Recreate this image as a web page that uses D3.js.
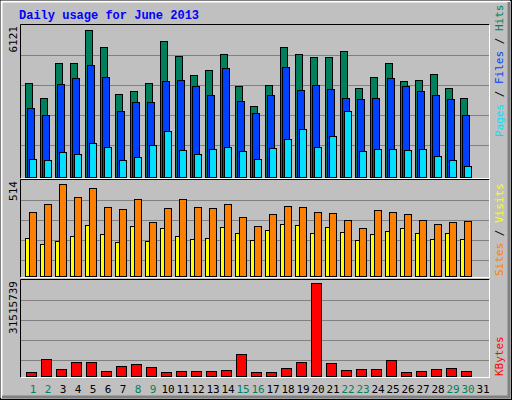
<!DOCTYPE html><html><head><meta charset="utf-8">
<script src="https://cdn.jsdelivr.net/npm/d3@7"></script>
<style>body{margin:0;background:#fff}svg{display:block}</style></head><body>
<script>
const days = d3.range(1,32);
const weekend = [1,2,8,9,15,16,22,23,29,30];
const hits  = [3830,3220,4630,4630,5960,5280,3380,3500,3830,5520,4910,4150,4350,4990,3690,2860,3740,5280,4990,4870,4870,5110,3620,4070,4630,3900,3950,4190,3620,3220,0];
const files = [2780,2500,3790,4000,4550,4070,2660,3060,3020,3900,3950,3700,3340,4430,3090,2580,3340,4470,3540,3740,3580,3220,3180,3220,4000,3670,3500,3340,3180,2500,0];
const pages = [720,680,1000,930,1370,1210,680,810,1290,1850,1090,930,1130,1210,1050,720,1170,1530,1930,1210,1650,2660,1050,1130,1130,1090,1130,850,680,440,0];
const sites = [205,173,189,216,276,227,184,270,189,259,216,200,205,265,232,194,249,281,276,232,265,238,194,227,243,259,232,200,232,200,0];
const visits= [346,389,497,427,476,373,362,416,292,368,416,373,368,389,319,270,335,378,373,346,341,303,259,357,346,335,303,281,292,297,0];
const kbytes= [1330000,5640000,2320000,4640000,4640000,1660000,3320000,3980000,2980000,1330000,1660000,1660000,1660000,1990000,7300000,1330000,1330000,2650000,4640000,30850000,4310000,1990000,2320000,2320000,5310000,1330000,1660000,2320000,2650000,1660000,0];
const maxTop = 6121, maxMid = 514, maxBot = 31515739;

const W=512,H=400;
const svg=d3.select("body").append("svg").attr("width",W).attr("height",H);
svg.append("rect").attr("width",W).attr("height",H).attr("fill","#c0c0c0");
// bevel
svg.append("rect").attr("x",0.5).attr("y",0.5).attr("width",W-1).attr("height",H-1).attr("fill","none").attr("stroke","#000");
svg.append("path").attr("d",`M1.5,${H-2}V1.5H${W-2}`).attr("fill","none").attr("stroke","#fff").attr("stroke-width",2);
svg.append("path").attr("d",`M${W-3},2V${H-3}H2`).attr("fill","none").attr("stroke","#808080").attr("stroke-width",3);

const x=d3.scaleBand().domain(days).range([22.5,487.5]).padding(0);
const mono="'DejaVu Sans Mono','Liberation Mono',monospace";

svg.append("text").attr("x",19).attr("y",19).attr("fill","#0000ff").attr("font-family","'Liberation Mono',monospace")
  .attr("font-weight","bold").attr("font-size","12px").text("Daily usage for June 2013");

function panel(y0,y1,max,label){
  svg.append("rect").attr("x",20.5).attr("y",y0+0.5).attr("width",469).attr("height",y1-y0).attr("fill","#c0c0c0");
  const y=d3.scaleLinear().domain([0,max]).range([y1,y0+1]);
  const grid=[1,2,3,4].map(i=>y1-1-i*20*(y1-y0)/96*0+0);
  return y;
}
const panels=[
 {y0:25,y1:177,max:maxTop,lab:"6121",grid:[55,85,115,145]},
 {y0:180,y1:276,max:maxMid,lab:"514",grid:[200,220,240,260]},
 {y0:280,y1:376,max:maxBot,lab:"31515739",grid:[300,320,340,360]}
];
const ys=panels.map(p=>{
  svg.append("rect").attr("x",20.5).attr("y",p.y0-0.5).attr("width",469).attr("height",p.y1-p.y0+2).attr("fill","#c0c0c0");
  p.grid.forEach(g=>svg.append("line").attr("x1",21).attr("x2",489).attr("y1",g+0.5).attr("y2",g+0.5).attr("stroke","#808080"));
  svg.append("path").attr("d",`M20.5,${p.y1+1.5}V${p.y0-0.5}H489.5`).attr("fill","none").attr("stroke","#000");
  svg.append("path").attr("d",`M489.5,${p.y0-0.5}V${p.y1+1.5}H20.5`).attr("fill","none").attr("stroke","#fff");
  svg.append("text").attr("transform",`translate(17,${p.y0+1}) rotate(-90)`).attr("text-anchor","end")
    .attr("font-family",mono).attr("font-size","11px").attr("fill","#000").text(p.lab);
  return d3.scaleLinear().domain([0,p.max]).range([p.y1,p.y0+1]);
});

function bars(data,yS,off,w,col){
  svg.append("g").selectAll("rect").data(days.filter((d,i)=>data[i]>0)).join("rect")
   .attr("x",d=>Math.round(x(d))+off+0.5).attr("y",d=>Math.round(yS(data[d-1]))+0.5)
   .attr("width",w).attr("height",d=>yS(0)-Math.round(yS(data[d-1])))
   .attr("fill",col).attr("stroke","#000");
}
bars(hits,ys[0],2,7,"#00805c");
bars(files,ys[0],4,7,"#0040ff");
bars(pages,ys[0],6,7,"#00e0ff");
bars(sites,ys[1],2,5,"#ffff00");
bars(visits,ys[1],6,7,"#ff8000");
bars(kbytes,ys[2],3,10,"#ff0000");

svg.append("g").selectAll("text").data(days).join("text")
 .attr("x",d=>x(d)+x.bandwidth()/2+3).attr("y",393).attr("text-anchor","middle")
 .attr("font-family",mono).attr("font-size","11px")
 .attr("fill",d=>weekend.includes(d)?"#00805c":"#000").text(d=>d);

function rlabel(yb,parts){
  const t=svg.append("text").attr("transform",`translate(503,${yb}) rotate(-90)`)
    .attr("font-family",mono).attr("font-size","11px");
  parts.forEach(([s,c])=>t.append("tspan").attr("fill",c).text(s));
}
rlabel(137,[["Pages","#00e0ff"],[" / ","#000"],["Files","#0040ff"],[" / ","#000"],["Hits","#00805c"]]);
rlabel(276,[["Sites","#ff8000"],[" / ","#000"],["Visits","#ffff00"]]);
rlabel(376,[["KBytes","#ff0000"]]);
</script></body></html>
